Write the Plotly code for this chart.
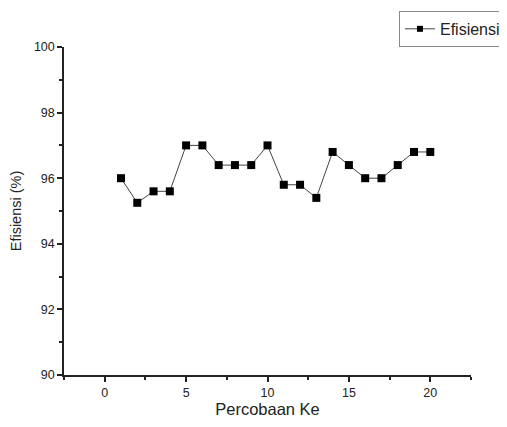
import plotly.graph_objects as go

trial = list(range(1, 21))
efisiensi = [96.0, 95.25, 95.6, 95.6, 97.0, 97.0, 96.4, 96.4, 96.4, 97.0,
             95.8, 95.8, 95.4, 96.8, 96.4, 96.0, 96.0, 96.4, 96.8, 96.8]
series_name = "Efisiensi"

fig = go.Figure()
fig.add_trace(go.Scatter(
    x=trial, y=efisiensi, mode="lines+markers", name=series_name,
    line=dict(color="#444444", width=1),
    marker=dict(symbol="square", size=8, color="black"),
    showlegend=False,
))
# legend-only entry (smaller marker like the reference legend)
fig.add_trace(go.Scatter(
    x=[None], y=[None], mode="lines+markers", name=series_name,
    line=dict(color="#444444", width=1),
    marker=dict(symbol="square", size=6, color="black"),
    showlegend=True, hoverinfo="skip",
))

font = "Liberation Sans, Arial, sans-serif"
fig.update_layout(
    width=499, height=419,
    margin=dict(l=56, r=36, t=39, b=52, autoexpand=False),
    paper_bgcolor="white", plot_bgcolor="white",
    font=dict(family=font, size=12, color="#222"),
    showlegend=True,
    legend=dict(x=0.823, y=1.11, xanchor="left", yanchor="top",
                bordercolor="#888", borderwidth=1, bgcolor="white",
                font=dict(size=16, family=font), itemwidth=30,
                tracegroupgap=0),
    xaxis=dict(range=[-2.5, 22.5], tickvals=[0, 5, 10, 15, 20],
               automargin=False,
               showgrid=False, zeroline=False, showline=True,
               linecolor="#222", linewidth=1.5, ticks="outside",
               ticklen=5, tickcolor="#222", tickwidth=1.5,
               tickfont=dict(size=12.5),
               minor=dict(tickvals=[-2.5, 2.5, 7.5, 12.5, 17.5, 22.5], ticks="outside",
                          ticklen=3, tickcolor="#222", showgrid=False),
               title=dict(text="Percobaan Ke", font=dict(size=16.5), standoff=5)),
    yaxis=dict(range=[90, 100], tickvals=[90, 92, 94, 96, 98, 100],
               automargin=False,
               showgrid=False, zeroline=False, showline=True,
               linecolor="#222", linewidth=1.5, ticks="outside",
               ticklen=5, tickcolor="#222", tickwidth=1.5,
               tickfont=dict(size=12.5),
               minor=dict(tickvals=[91, 93, 95, 97, 99], ticks="outside",
                          ticklen=3, tickcolor="#222", showgrid=False),
               title=dict(text="Efisiensi (%)", font=dict(size=14.5), standoff=10)),
)

fig.write_html("out.html")
